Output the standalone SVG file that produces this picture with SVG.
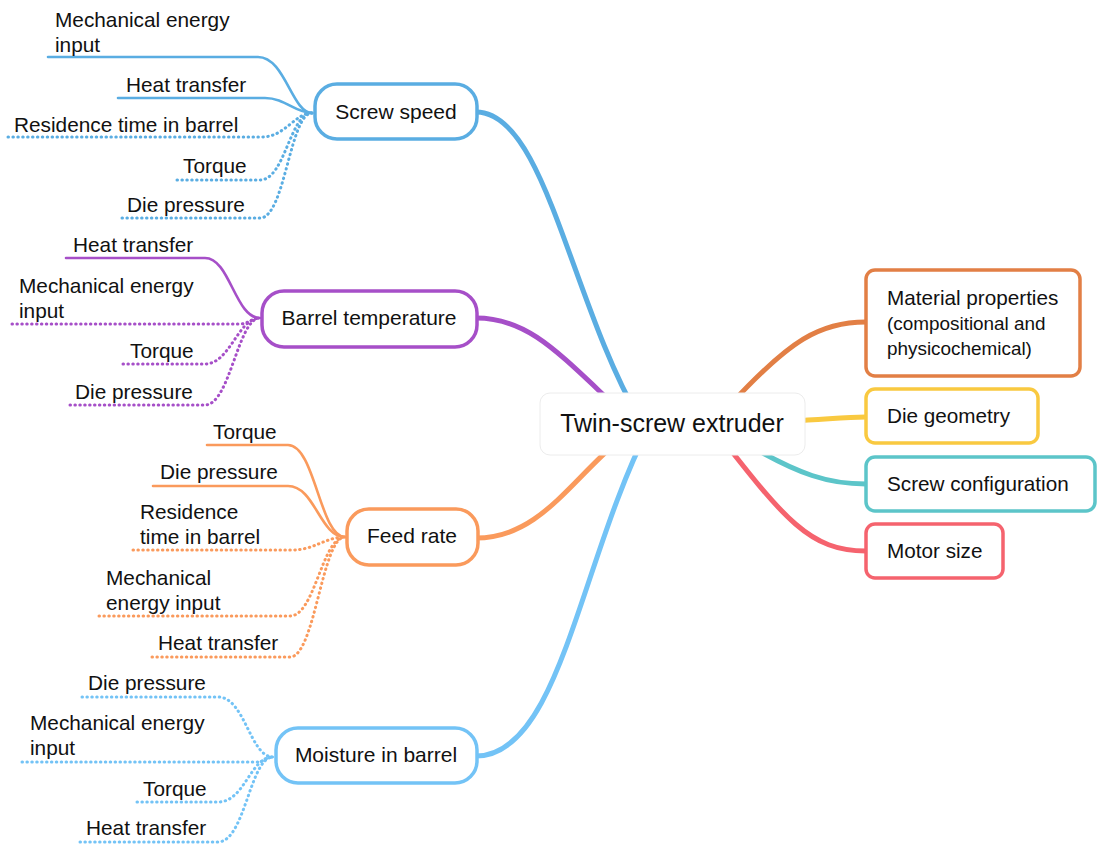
<svg xmlns="http://www.w3.org/2000/svg" width="1097" height="845" viewBox="0 0 1097 845">
<style>
text{font-family:"Liberation Sans",Arial,sans-serif;fill:#111;}
.leaf{font-size:20.8px;}
.nt{font-size:21px;text-anchor:middle;}
.rt{font-size:20.7px;}
.rs{font-size:18.9px;}
.main{fill:none;stroke-width:5;stroke-linecap:round;}
.sol{fill:none;stroke-width:2.6;stroke-linecap:round;}
.dot{fill:none;stroke-width:3;stroke-linecap:round;stroke-dasharray:0.5 4.4;}
.pill{fill:#fff;stroke-width:3.5;}
.box{fill:#fff;stroke-width:3.5;}
.blue{stroke:#5AADE2;}
.purple{stroke:#A64FC8;}
.orange{stroke:#FA9A5C;}
.lblue{stroke:#73C3F6;}
.mat{stroke:#E27F45;}
.die{stroke:#F9C940;}
.scr{stroke:#5CC5C9;}
.mot{stroke:#F5636E;}
</style>
<rect width="1097" height="845" fill="#fff"/>
<g id="connectors">
<path class="main blue" d="M 476 112 C 545 112, 570 300, 640 420"/>
<path class="main purple" d="M 476 318 C 530 318, 560 355, 625 415"/>
<path class="main orange" d="M 476 538 C 540 538, 570 480, 625 435"/>
<path class="main lblue" d="M 476 756 C 560 756, 580 560, 650 425"/>
<path class="main mat" d="M 730 405 C 790 340, 820 322, 866 322"/>
<path class="main die" d="M 790 421 C 830 419, 845 417, 866 417"/>
<path class="main scr" d="M 740 440 C 800 476, 830 484, 866 484"/>
<path class="main mot" d="M 715 430 C 785 520, 810 551, 866 551"/>
<path class="sol blue" d="M 48 57 H 258 C 285 57, 292 113, 312 113"/>
<path class="sol blue" d="M 118 98 H 265 C 285 98, 295 113, 312 113"/>
<path class="dot blue" d="M 8 137 H 262 C 285 137, 295 113, 312 113"/>
<path class="dot blue" d="M 177 180 H 260 C 285 180, 290 113, 312 113"/>
<path class="dot blue" d="M 122 218 H 260 C 285 218, 290 113, 312 113"/>
<path class="sol purple" d="M 66 258 H 205 C 230 258, 235 318, 260 318"/>
<path class="dot purple" d="M 12 324 H 240 C 248 324, 252 318, 260 318"/>
<path class="dot purple" d="M 123 364 H 205 C 230 364, 238 318, 260 318"/>
<path class="dot purple" d="M 70 405 H 205 C 230 405, 238 318, 260 318"/>
<path class="sol orange" d="M 207 445 H 288 C 315 445, 320 537, 345 537"/>
<path class="sol orange" d="M 153 486 H 288 C 315 486, 320 537, 345 537"/>
<path class="dot orange" d="M 133 550 H 292 C 315 550, 325 537, 345 537"/>
<path class="dot orange" d="M 99 616 H 290 C 315 616, 322 537, 345 537"/>
<path class="dot orange" d="M 152 657 H 290 C 315 657, 322 537, 345 537"/>
<path class="dot lblue" d="M 82 697 H 218 C 245 697, 250 757, 273 757"/>
<path class="dot lblue" d="M 22 762 H 258 C 263 762, 266 757, 273 757"/>
<path class="dot lblue" d="M 137 802 H 218 C 245 802, 250 757, 273 757"/>
<path class="dot lblue" d="M 80 842 H 218 C 245 842, 250 757, 273 757"/>
</g>
<g id="center">
<rect x="540" y="393" width="265" height="62" rx="10" fill="#fff" stroke="#ececec" stroke-width="1"/>
<text x="672" y="432" font-size="25" text-anchor="middle">Twin-screw extruder</text>
</g>
<g id="screw-speed">
<rect class="pill blue" x="315" y="84" width="162" height="55" rx="22"/>
<text class="nt" x="396" y="119">Screw speed</text>
</g>
<g id="barrel-temperature">
<rect class="pill purple" x="262" y="291" width="215" height="56" rx="22"/>
<text class="nt" x="369" y="325">Barrel temperature</text>
</g>
<g id="feed-rate">
<rect class="pill orange" x="347" y="509" width="131" height="56" rx="22"/>
<text class="nt" x="412" y="543">Feed rate</text>
</g>
<g id="moisture-in-barrel">
<rect class="pill lblue" x="276" y="728" width="201" height="55" rx="22"/>
<text class="nt" x="376" y="762">Moisture in barrel</text>
</g>
<g id="material-properties">
<rect class="box mat" x="866" y="270" width="214" height="106" rx="9"/>
<text class="rt" x="887" y="305">Material properties</text>
<text class="rs" x="887" y="330">(compositional and</text>
<text class="rs" x="887" y="355">physicochemical)</text>
</g>
<g id="die-geometry">
<rect class="box die" x="866" y="389" width="172" height="54" rx="9"/>
<text class="rt" x="887" y="423">Die geometry</text>
</g>
<g id="screw-configuration">
<rect class="box scr" x="866" y="457" width="229" height="54" rx="9"/>
<text class="rt" x="887" y="491">Screw configuration</text>
</g>
<g id="motor-size">
<rect class="box mot" x="866" y="524" width="137" height="54" rx="9"/>
<text class="rt" x="887" y="558">Motor size</text>
</g>
<g id="leaves-screw-speed">
<text class="leaf" x="55" y="27">Mechanical energy</text>
<text class="leaf" x="55" y="52">input</text>
<text class="leaf" x="126" y="92">Heat transfer</text>
<text class="leaf" x="14" y="132">Residence time in barrel</text>
<text class="leaf" x="183" y="173">Torque</text>
<text class="leaf" x="127" y="212">Die pressure</text>
</g>
<g id="leaves-barrel-temperature">
<text class="leaf" x="73" y="252">Heat transfer</text>
<text class="leaf" x="19" y="293">Mechanical energy</text>
<text class="leaf" x="19" y="318">input</text>
<text class="leaf" x="130" y="358">Torque</text>
<text class="leaf" x="75" y="399">Die pressure</text>
</g>
<g id="leaves-feed-rate">
<text class="leaf" x="213" y="439">Torque</text>
<text class="leaf" x="160" y="479">Die pressure</text>
<text class="leaf" x="140" y="519">Residence</text>
<text class="leaf" x="140" y="544">time in barrel</text>
<text class="leaf" x="106" y="585">Mechanical</text>
<text class="leaf" x="106" y="610">energy input</text>
<text class="leaf" x="158" y="650">Heat transfer</text>
</g>
<g id="leaves-moisture">
<text class="leaf" x="88" y="690">Die pressure</text>
<text class="leaf" x="30" y="730">Mechanical energy</text>
<text class="leaf" x="30" y="755">input</text>
<text class="leaf" x="143" y="796">Torque</text>
<text class="leaf" x="86" y="835">Heat transfer</text>
</g>
</svg>
